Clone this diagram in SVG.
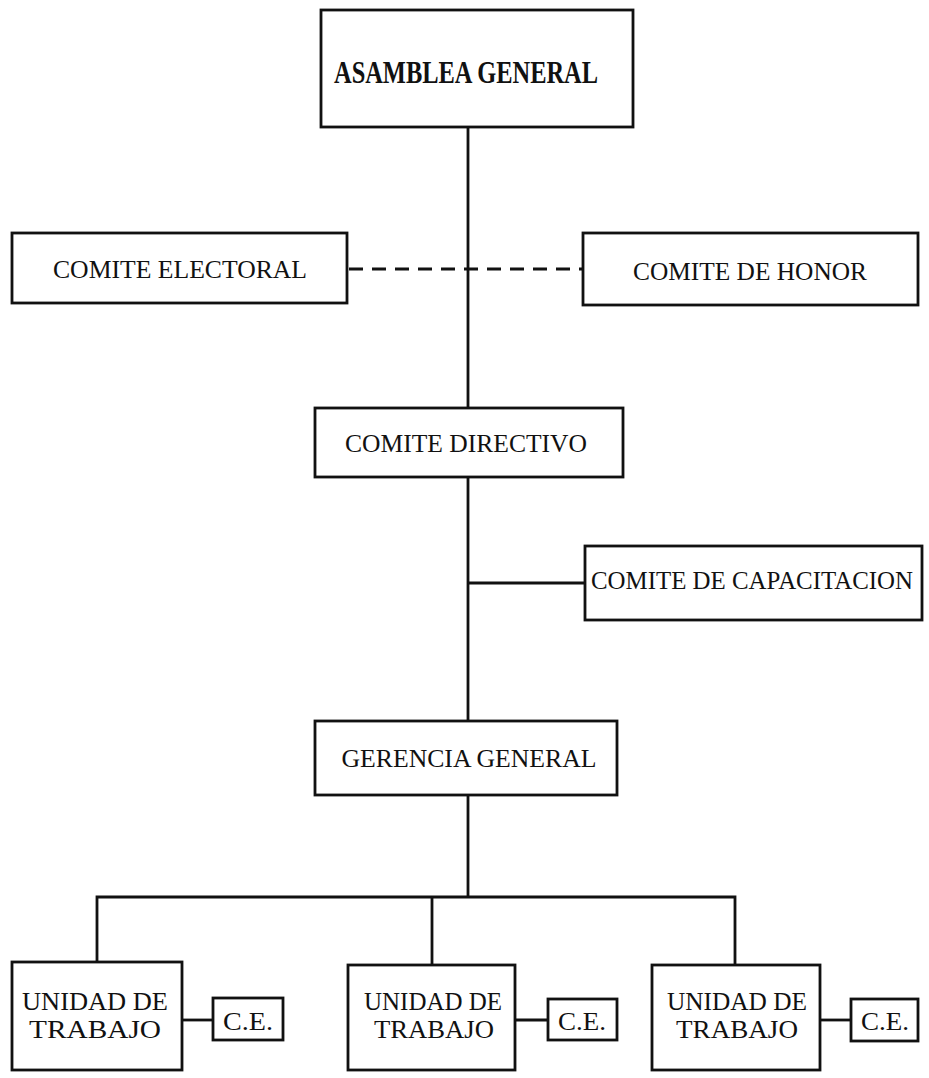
<svg xmlns="http://www.w3.org/2000/svg" width="929" height="1078" viewBox="0 0 929 1078">
<style>
.box{fill:#fff;stroke:#111;stroke-width:2.8}
.ln{stroke:#111;stroke-width:2.8;fill:none}
.dash{stroke:#111;stroke-width:3;fill:none;stroke-dasharray:14 9}
.t{font-family:"Liberation Serif","Times New Roman",serif;font-size:26px;fill:#111;text-anchor:middle}
.u{font-size:25px}
.b{font-weight:bold;font-size:32px}
</style>
<rect width="929" height="1078" fill="#fff"/>
<g id="connectors">
<line class="ln" x1="468" y1="127" x2="468" y2="408"/>
<line class="dash" x1="349" y1="269" x2="583" y2="269"/>
<line class="ln" x1="468" y1="477" x2="468" y2="721"/>
<line class="ln" x1="468" y1="583" x2="585" y2="583"/>
<line class="ln" x1="468" y1="795" x2="468" y2="897"/>
<polyline class="ln" points="97,962 97,897 735,897 735,965"/>
<line class="ln" x1="432" y1="897" x2="432" y2="965"/>
<line class="ln" x1="182" y1="1020" x2="213" y2="1020"/>
<line class="ln" x1="515" y1="1020" x2="548" y2="1020"/>
<line class="ln" x1="820" y1="1020" x2="851" y2="1020"/>
</g>
<g id="asamblea">
<rect class="box" x="321" y="10" width="312" height="117"/>
<text class="t b" x="466" y="83" textLength="264" lengthAdjust="spacingAndGlyphs">ASAMBLEA GENERAL</text>
</g>
<g id="electoral">
<rect class="box" x="12" y="233" width="335" height="70"/>
<text class="t" x="180" y="278" textLength="254" lengthAdjust="spacingAndGlyphs">COMITE ELECTORAL</text>
</g>
<g id="honor">
<rect class="box" x="583" y="233" width="335" height="72"/>
<text class="t" x="750" y="280" textLength="234" lengthAdjust="spacingAndGlyphs">COMITE DE HONOR</text>
</g>
<g id="directivo">
<rect class="box" x="315" y="408" width="308" height="69"/>
<text class="t" x="466" y="452" textLength="242" lengthAdjust="spacingAndGlyphs">COMITE DIRECTIVO</text>
</g>
<g id="capacitacion">
<rect class="box" x="585" y="546" width="337" height="74"/>
<text class="t" x="752" y="589" textLength="322" lengthAdjust="spacingAndGlyphs">COMITE DE CAPACITACION</text>
</g>
<g id="gerencia">
<rect class="box" x="315" y="721" width="302" height="74"/>
<text class="t" x="469" y="767" textLength="255" lengthAdjust="spacingAndGlyphs">GERENCIA GENERAL</text>
</g>
<g id="unidad1">
<rect class="box" x="12" y="962" width="170" height="108"/>
<text class="t u" x="95" y="1010" textLength="146" lengthAdjust="spacingAndGlyphs">UNIDAD DE</text>
<text class="t u" x="95" y="1038" textLength="132" lengthAdjust="spacingAndGlyphs">TRABAJO</text>
</g>
<g id="ce1">
<rect class="box" x="213" y="998" width="70" height="42"/>
<text class="t" x="248" y="1030" textLength="50" lengthAdjust="spacingAndGlyphs">C.E.</text>
</g>
<g id="unidad2">
<rect class="box" x="348" y="965" width="167" height="105"/>
<text class="t u" x="433" y="1010" textLength="138" lengthAdjust="spacingAndGlyphs">UNIDAD DE</text>
<text class="t u" x="434" y="1038" textLength="120" lengthAdjust="spacingAndGlyphs">TRABAJO</text>
</g>
<g id="ce2">
<rect class="box" x="548" y="999" width="69" height="41"/>
<text class="t" x="582" y="1030" textLength="48" lengthAdjust="spacingAndGlyphs">C.E.</text>
</g>
<g id="unidad3">
<rect class="box" x="652" y="965" width="168" height="105"/>
<text class="t u" x="737" y="1010" textLength="140" lengthAdjust="spacingAndGlyphs">UNIDAD DE</text>
<text class="t u" x="737" y="1038" textLength="122" lengthAdjust="spacingAndGlyphs">TRABAJO</text>
</g>
<g id="ce3">
<rect class="box" x="851" y="999" width="67" height="42"/>
<text class="t" x="885" y="1030" textLength="48" lengthAdjust="spacingAndGlyphs">C.E.</text>
</g>
</svg>
